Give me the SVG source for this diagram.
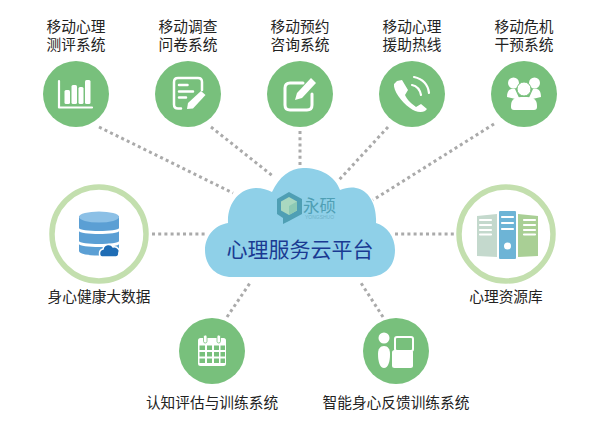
<svg xmlns="http://www.w3.org/2000/svg" width="600" height="430" viewBox="0 0 600 430">
<style>
.t{font-family:"Noto Sans CJK SC","Noto Sans",sans-serif;font-size:14.7px;fill:#222;text-anchor:middle}
.g{fill:#78c07c}
.r{fill:#fff;stroke:#c3dfae;stroke-width:5.5}
.w{fill:#fff}
.s{fill:none;stroke:#fff;stroke-linecap:round;stroke-linejoin:round}
.d{fill:none;stroke:#aaa;stroke-width:3;stroke-dasharray:3 3.200}
</style>
<rect width="600" height="430" fill="#fff"/>
<g id="connectors">
<path class="d" d="M99 127L233 193"/>
<path class="d" d="M211 127L274 177"/>
<path class="d" d="M300 131V166"/>
<path class="d" d="M388 127L339 180"/>
<path class="d" d="M494 124L373 200"/>
<path class="d" d="M152 234H205"/>
<path class="d" d="M395 234H456"/>
<path class="d" d="M227 317L250 283"/>
<path class="d" d="M383 317L361 283"/>
</g>
<g id="cloud">
<path fill="#8fd0e8" d="M232 277C215 277 205 265 205 250C205 236 215 225 228 223C227 203 240 188 256 188C262 188 268 190 272 192C279 177 290 168 303 168C321 168 335 176 340 190C345 188 351 187 356 188C369 190 377 205 376 223C387 226 395 237 395 250C395 266 385 277 368 277Z"/>
<g id="logo">
<path fill="#4f9fb4" d="M289 192L302 199V214L289 221L283 224V218L277 214V199Z"/>
<path fill="#a9d8c0" d="M289 197L297 201.500V210.500L289 215L281 210.500V201.500Z"/>
<path fill="#8cc9b4" d="M289 206L297 201.500V210.500L289 215Z"/>
<text x="319.500" y="212" font-family="'Noto Sans CJK SC',sans-serif" font-size="16.500" fill="#4f9fb4" text-anchor="middle">永硕</text>
<text x="319.500" y="219" font-family="'Liberation Sans',sans-serif" font-size="5" fill="#6fb3c8" text-anchor="middle">YONGSHUO</text>
</g>
<text x="300" y="257" font-family="'Noto Sans CJK SC',sans-serif" font-size="21" fill="#1a3a92" text-anchor="middle">心理服务云平台</text>
</g>
<g id="node-1">
<text class="t" x="76" y="32">移动心理</text><text class="t" x="76" y="50">测评系统</text>
<circle class="g" cx="76" cy="94" r="33"/>
<path class="s" stroke-width="2.200" d="M59 81V107.500H92"/>
<rect class="w" x="64.500" y="90" width="5.500" height="14" rx="1.500"/>
<rect class="w" x="71.500" y="85" width="5.500" height="19" rx="1.500"/>
<rect class="w" x="78.500" y="87" width="5" height="17" rx="1.500"/>
<rect class="w" x="85" y="80" width="5.500" height="24" rx="1.500"/>
</g>
<g id="node-2">
<text class="t" x="188" y="32">移动调查</text><text class="t" x="188" y="50">问卷系统</text>
<circle class="g" cx="188" cy="94" r="33"/>
<path class="s" stroke-width="2.500" d="M181 108.500H178Q174 108.500 174 104.500V82Q174 78 178 78H198Q202 78 202 82V90"/>
<path class="s" stroke-width="2.500" d="M179 85H187.500M179 91.500H193M179 97.500H186"/>
<path class="w" d="M201 91L205.500 95L193 108.500L187 109L188 103Z"/>
</g>
<g id="node-3">
<text class="t" x="300" y="32">移动预约</text><text class="t" x="300" y="50">咨询系统</text>
<circle class="g" cx="300" cy="94" r="33"/>
<path class="s" stroke-width="3" d="M303 83H290Q285 83 285 88V105Q285 110 290 110H307Q312 110 312 105V94"/>
<path class="w" d="M311 78L316 83L302 98L295 100L297 93Z"/>
</g>
<g id="node-4">
<text class="t" x="412" y="32">移动心理</text><text class="t" x="412" y="50">援助热线</text>
<circle class="g" cx="412" cy="94" r="33"/>
<path class="w" d="M397 81L402 80L408 90L405 95C407 100 412 104 416 107L421 104L427 109L425 111C421 113 415 112 410 108C401 102 393 90 394 84Z"/>
<path class="s" stroke-width="2.200" d="M412 85C417 86 420 90 421 95M414 77C423 79 428 85 429 93"/>
</g>
<g id="node-5">
<text class="t" x="524" y="32">移动危机</text><text class="t" x="524" y="50">干预系统</text>
<circle class="g" cx="524" cy="94" r="33"/>
<circle class="w" cx="513.500" cy="83" r="5.500"/><circle class="w" cx="534.500" cy="83" r="5.500"/>
<path class="w" d="M507 97C507 90 510 88 515 89L520 100L507 97ZM541 97C541 90 538 88 533 89L528 100L541 97Z"/>
<circle class="w" cx="524" cy="89" r="7" stroke="#78c07c"/>
<path class="w" d="M511 106C511 98 516 97 524 97C532 97 537 98 537 106V107Q537 110 534 110H514Q511 110 511 107Z"/>
</g>
<g id="node-6">
<circle class="r" cx="99" cy="234" r="47"/>
<path fill="#5b9fd4" d="M79 216V228C79 232 119 232 119 228V216Z"/>
<path fill="#5b9fd4" d="M79 231V241C79 245 119 245 119 241V231C119 235 79 235 79 231Z"/>
<path fill="#5b9fd4" d="M79 244V251C79 257 119 257 119 251V244C119 248 79 248 79 244Z"/>
<ellipse cx="99" cy="217" rx="20" ry="5.500" fill="#8cc0e6"/>
<path d="M102 257C99 257 98 250 103 249C104 244 111 243 113 247C118 246 120 251 119 252C119 255 118 257 116 257Z" fill="#1f6db5" stroke="#fff" stroke-width="1.500"/>
<text class="t" x="99" y="302">身心健康大数据</text>
</g>
<g id="node-7">
<circle class="r" cx="506" cy="234" r="47"/>
<path fill="#c4d9cd" d="M477 216L497 214V257L477 256Z"/>
<rect x="499" y="211" width="17" height="48" rx="1" fill="#6db4d6"/>
<path fill="#a9cf95" d="M518 214L538 216V256L518 257Z"/>
<path class="s" stroke-width="2.200" stroke-linecap="butt" d="M480 220H491M480 225H491M480 230H491M480 234.500H491M502 217H513M502 223H513M502 229H513M524 220H535M524 225H535M524 230H535M524 234.500H535"/>
<circle class="w" cx="507.500" cy="246" r="3.500"/>
<text class="t" x="506" y="302">心理资源库</text>
</g>
<g id="node-8">
<circle class="g" cx="212" cy="351" r="33"/>
<rect x="198" y="338" width="28" height="28" rx="2.500" class="w"/>
<rect x="203.500" y="335" width="3.500" height="8" rx="1.700" fill="#fff" stroke="#78c07c" stroke-width="0.800"/>
<rect x="217" y="335" width="3.500" height="8" rx="1.700" fill="#fff" stroke="#78c07c" stroke-width="0.800"/>
<path fill="#78c07c" d="M199.500 345.500h5.500v4.500h-5.500zM207 345.500h5v4.500h-5zM214 345.500h5v4.500h-5zM220.500 345.500h4.500v4.500h-4.500zM199.500 352h5.500v4.500h-5.500zM207 352h5v4.500h-5zM214 352h5v4.500h-5zM220.500 352h4.500v4.500h-4.500zM199.500 358.500h5.500v4.500h-5.500zM207 358.500h5v4.500h-5zM214 358.500h5v4.500h-5zM220.500 358.500h4.500v4.500h-4.500z"/>
<text class="t" x="212" y="408">认知评估与训练系统</text>
</g>
<g id="node-9">
<circle class="g" cx="396" cy="351" r="33"/>
<circle class="w" cx="384" cy="338" r="5.500"/>
<path class="w" d="M384 346C388 346 390 349 390 354C390 362 388 368 384 368C380 368 378 362 378 354C378 349 380 346 384 346Z"/>
<rect x="395" y="337" width="18" height="14" rx="2" fill="none" stroke="#fff" stroke-width="2"/>
<rect class="w" x="392" y="350" width="21" height="18" rx="2.500"/>
<text class="t" x="396" y="408">智能身心反馈训练系统</text>
</g>
</svg>
